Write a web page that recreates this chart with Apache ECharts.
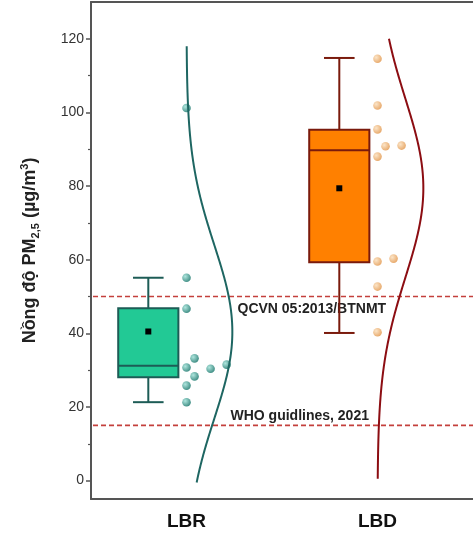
<!DOCTYPE html>
<html><head><meta charset="utf-8">
<script src="https://cdn.jsdelivr.net/npm/echarts@6/dist/echarts.min.js"></script>
<style>html,body{margin:0;padding:0;background:#fff}#c{width:473px;height:533px}</style>
</head><body><div id="c"></div>
<script>
// ---------- data ----------
const categories = ['LBR', 'LBD'];
const lbrValues = [101.2, 55.1, 46.7, 33.2, 31.5, 30.7, 30.4, 28.3, 25.8, 21.3];
const lbdValues = [114.6, 101.9, 95.4, 91.0, 90.8, 88.0, 60.3, 59.5, 52.7, 40.3];
// box statistics: [whisker low, Q1, median, Q3, whisker high, mean]
const lbrBox = [21.3, 28.1, 31.2, 46.8, 55.1, 40.5];
const lbdBox = [40.1, 59.3, 89.7, 95.3, 114.8, 79.4];
// value range over which the normal curves are drawn
const lbrCurveRange = [-0.5, 118];
const lbdCurveRange = [0.5, 120];
const thresholdValues = [50, 15];
const thresholdLabels = ['QCVN 05:2013/BTNMT', 'WHO guidlines, 2021'];
const yTickValues = [0, 20, 40, 60, 80, 100, 120];
const yMinorTickValues = [10, 30, 50, 70, 90, 110];

// ---------- styles ----------
const FONT = '"Liberation Sans", Arial, sans-serif';
const STYLE = [
  { fill: '#22c995', edge: '#1d5c56', curve: '#1e6662', pt0: '#a6e3da', pt1: '#21796f' },
  { fill: '#ff8000', edge: '#7a1a0c', curve: '#8c0d12', pt0: '#fbe2c2', pt1: '#e39a52' }
];
const BOX_OFFSET = -0.2;   // in band widths
const BOX_WIDTH = 0.315;
const CAP_WIDTH = 0.16;
const CURVE_AMP = 0.24;

function meanOf(a) { return a.reduce((s, v) => s + v, 0) / a.length; }
function sdOf(a) { const m = meanOf(a); return Math.sqrt(a.reduce((s, v) => s + (v - m) * (v - m), 0) / (a.length - 1)); }

function boxItem(params, api) {
  const ci = api.value(0);
  const band = api.size([1, 0])[0];
  const cx = api.coord([ci, 0])[0] + BOX_OFFSET * band;
  const half = BOX_WIDTH * band / 2, cap = CAP_WIDTH * band / 2;
  const y = i => api.coord([ci, api.value(i)])[1];
  const yl = y(1), yq1 = y(2), ym = y(3), yq3 = y(4), yh = y(5), ymean = y(6);
  const st = STYLE[ci];
  const ls = { stroke: st.edge, lineWidth: 2 };
  return { type: 'group', children: [
    { type: 'line', shape: { x1: cx, y1: yq3, x2: cx, y2: yh }, style: ls },
    { type: 'line', shape: { x1: cx - cap, y1: yh, x2: cx + cap, y2: yh }, style: ls },
    { type: 'line', shape: { x1: cx, y1: yq1, x2: cx, y2: yl }, style: ls },
    { type: 'line', shape: { x1: cx - cap, y1: yl, x2: cx + cap, y2: yl }, style: ls },
    { type: 'rect', shape: { x: cx - half, y: yq3, width: 2 * half, height: yq1 - yq3 }, style: { fill: st.fill, stroke: st.edge, lineWidth: 2 } },
    { type: 'line', shape: { x1: cx - half, y1: ym, x2: cx + half, y2: ym }, style: ls },
    { type: 'rect', shape: { x: cx - 3, y: ymean - 3, width: 6, height: 6 }, style: { fill: '#000' } }
  ] };
}

function swarmOffsets(api, ci, values) {
  const band = api.size([1, 0])[0];
  const step = band * 0.042, minDist = band * 0.062;
  const order = values.map((v, i) => i).sort((a, b) => values[a] - values[b]);
  const placed = [], offs = new Array(values.length);
  order.forEach(i => {
    const py = api.coord([ci, values[i]])[1];
    let c = 0;
    while (placed.some(p => Math.hypot(p.x - c * step, p.y - py) < minDist)) c++;
    placed.push({ x: c * step, y: py });
    offs[i] = c * step;
  });
  return offs;
}

function pointRenderer(ci, values) {
  return function (params, api) {
    const offs = swarmOffsets(api, ci, values);
    const p = api.coord([ci, api.value(1)]);
    const st = STYLE[ci];
    return { type: 'circle', shape: { cx: p[0] + offs[params.dataIndex], cy: p[1], r: 4.3 },
      style: { fill: { type: 'radial', x: 0.35, y: 0.35, r: 0.75,
        colorStops: [{ offset: 0, color: st.pt0 }, { offset: 1, color: st.pt1 }] }, opacity: 0.9 } };
  };
}

function curveRenderer(ci, values, range) {
  const m = meanOf(values), sd = sdOf(values);
  return function (params, api) {
    const band = api.size([1, 0])[0];
    const pts = [];
    for (let v = range[0]; v <= range[1] + 1e-9; v += 0.5) {
      const p = api.coord([ci, v]);
      pts.push([p[0] + CURVE_AMP * band * Math.exp(-0.5 * ((v - m) / sd) ** 2), p[1]]);
    }
    return { type: 'polyline', shape: { points: pts }, style: { stroke: STYLE[ci].curve, lineWidth: 2, fill: null } };
  };
}

function thresholdItem(params, api) {
  const cs = params.coordSys;
  const y = api.coord([0, api.value(1)])[1];
  const x0 = api.coord([0, 0])[0];
  const i = params.dataIndex;
  const label = thresholdLabels[i];
  const tx = x0 + (i === 0 ? 51 : 44);
  const ty = i === 0 ? y + 13 : y - 9;
  return { type: 'group', children: [
    { type: 'line', shape: { x1: cs.x + 2, y1: y, x2: cs.x + cs.width, y2: y },
      style: { stroke: '#c4403c', lineWidth: 1.6, lineDash: [5, 3] } },
    { type: 'text', x: tx, y: ty, style: { text: label, fill: '#222', font: 'bold 14px ' + FONT, align: 'left', verticalAlign: 'middle' } }
  ] };
}

const chart = echarts.init(document.getElementById('c'), null, { renderer: 'canvas' });
chart.setOption({
  animation: false,
  backgroundColor: '#fff',
  grid: { left: 91, top: 2, width: 388, height: 497 },
  xAxis: [
    { type: 'category', data: categories, position: 'bottom',
      axisLine: { onZero: false, lineStyle: { color: '#555', width: 2 } },
      axisTick: { alignWithLabel: true, length: 4, lineStyle: { color: '#555', width: 1.5 } },
      axisLabel: { color: '#111', fontWeight: 'bold', fontSize: 19, fontFamily: FONT, margin: 13 } },
    { type: 'category', data: categories, position: 'top',
      axisLine: { onZero: false, lineStyle: { color: '#555', width: 2 } },
      axisTick: { show: false }, axisLabel: { show: false } }
  ],
  yAxis: [
    { type: 'value', min: -5, max: 130, position: 'left',
      axisLine: { show: true, onZero: false, lineStyle: { color: '#555', width: 2 } },
      axisTick: { show: true, customValues: yTickValues, length: 5, lineStyle: { color: '#555', width: 1.5 } },
      axisLabel: { customValues: yTickValues, color: '#333', fontSize: 14, fontFamily: FONT, margin: 7 },
      splitLine: { show: false },
      name: '{b|Nồng độ PM}{sub|2,5}{b| (µg/m}{sup|3}{b|)}',
      nameLocation: 'middle', nameRotate: 90, nameGap: 50,
      nameTextStyle: { rich: {
        b: { fontSize: 18, fontWeight: 'bold', color: '#222', fontFamily: FONT, lineHeight: 22, verticalAlign: 'middle' },
        sub: { fontSize: 11, fontWeight: 'bold', color: '#222', fontFamily: FONT, lineHeight: 22, verticalAlign: 'bottom' },
        sup: { fontSize: 11, fontWeight: 'bold', color: '#222', fontFamily: FONT, lineHeight: 22, verticalAlign: 'top' }
      } } },
    { type: 'value', min: -5, max: 130, position: 'left',
      axisLine: { show: false },
      axisTick: { show: true, customValues: yMinorTickValues, length: 3, lineStyle: { color: '#555', width: 1.2 } },
      axisLabel: { show: false }, splitLine: { show: false } }
  ],
  series: [
    { type: 'custom', name: 'thresholds', renderItem: thresholdItem, z: 2,
      data: thresholdValues.map(v => [0, v]), encode: { x: 0, y: 1 } },
    { type: 'custom', name: 'box', renderItem: boxItem, z: 3,
      data: [[0, ...lbrBox], [1, ...lbdBox]],
      encode: { x: 0, y: [1, 2, 3, 4, 5, 6] } },
    { type: 'custom', name: 'LBR points', renderItem: pointRenderer(0, lbrValues), z: 4,
      data: lbrValues.map(v => [0, v]), encode: { x: 0, y: 1 } },
    { type: 'custom', name: 'LBD points', renderItem: pointRenderer(1, lbdValues), z: 4,
      data: lbdValues.map(v => [1, v]), encode: { x: 0, y: 1 } },
    { type: 'custom', name: 'LBR curve', renderItem: curveRenderer(0, lbrValues, lbrCurveRange), z: 5,
      data: [[0, lbrCurveRange[0]]], encode: { x: 0, y: 1 } },
    { type: 'custom', name: 'LBD curve', renderItem: curveRenderer(1, lbdValues, lbdCurveRange), z: 5,
      data: [[1, lbdCurveRange[0]]], encode: { x: 0, y: 1 } }
  ]
});
</script>
</body></html>
